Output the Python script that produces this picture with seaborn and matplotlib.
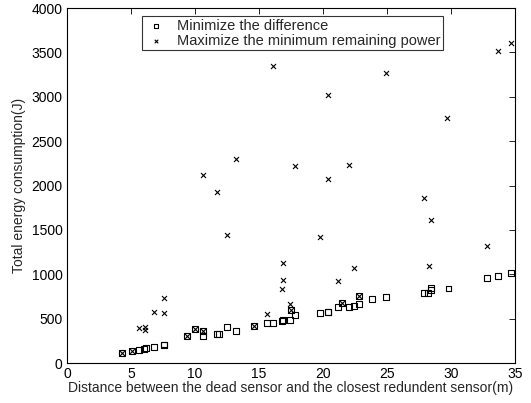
import matplotlib
matplotlib.use('Agg')
import matplotlib.pyplot as plt
import seaborn as sns
import pandas as pd

# Datos
dist_min_diff = [4.3, 5.1, 5.6, 6.0, 6.2, 6.8, 7.6, 7.6, 9.4, 10.0, 10.6, 10.6, 11.7, 11.9,
                 12.5, 13.2, 14.6, 15.6, 16.1, 16.8, 16.9, 17.4, 17.5, 17.8, 19.8, 20.4,
                 20.4, 21.2, 21.5, 22.0, 22.4, 22.8, 22.8, 23.8, 24.9, 27.9, 28.2, 28.4,
                 28.4, 29.8, 32.8, 33.7, 34.7]
energy_min_diff = [116, 135, 146, 161, 169, 184, 200, 210, 304, 387, 361, 304, 323, 330,
                   409, 364, 413, 447, 454, 473, 484, 488, 597, 537, 560, 571,
                   580, 634, 680, 634, 646, 668, 758, 721, 744, 792, 792, 820,
                   848, 841, 954, 980, 1017]

dist_max_min = [4.3, 5.1, 5.6, 6.1, 6.1, 6.8, 7.6, 7.6, 9.4, 10.0, 10.6, 10.6, 11.7, 12.5,
                13.2, 14.6, 15.6, 16.1, 16.8, 16.9, 16.9, 17.4, 17.5, 17.8, 19.8, 20.4,
                20.4, 21.2, 21.5, 22.0, 22.4, 22.8, 24.9, 27.9, 28.3, 28.4, 29.7, 32.8,
                33.7, 34.7]
energy_max_min = [116, 135, 391, 409, 372, 571, 567, 729, 304, 387, 361, 2115, 1923, 1446,
                  2295, 413, 549, 3350, 834, 935, 1130, 661, 597, 2216, 1423, 2077,
                  3023, 920, 680, 2227, 1067, 758, 3268, 1863, 1089, 1608, 2757, 1315,
                  3519, 3602]

etiquetas = ['Minimize the difference', 'Maximize the minimum remaining power']

sns.set_style('white')
plt.rcParams['font.family'] = ['Liberation Sans', 'DejaVu Sans']

df1 = pd.DataFrame({'d': dist_min_diff, 'e': energy_min_diff})
df2 = pd.DataFrame({'d': dist_max_min, 'e': energy_max_min})

fig = plt.figure(figsize=(5.31, 4.03), dpi=100)
ax = fig.add_axes([0.126, 0.099, 0.844, 0.881])

sns.scatterplot(data=df1, x='d', y='e', marker='s', s=18, facecolors='none',
                edgecolor='black', linewidth=0.8, label=etiquetas[0], ax=ax)
sns.scatterplot(data=df2, x='d', y='e', marker='x', s=13, color='black',
                linewidth=0.8, label=etiquetas[1], ax=ax)

ax.set_xlim(0, 35)
ax.set_ylim(0, 4000)
ax.set_xticks(range(0, 36, 5))
ax.set_yticks(range(0, 4001, 500))
ax.tick_params(direction='in', top=True, right=True, length=4, width=0.6,
               labelsize=10, colors='black', pad=3)
for sp in ax.spines.values():
    sp.set_color('black')
    sp.set_linewidth(0.8)

ax.set_xlabel('Distance between the dead sensor and the closest redundent sensor(m)',
              fontsize=10, labelpad=0)
ax.set_ylabel('Total energy consumption(J)', fontsize=10, labelpad=4)

leg = ax.legend(loc='upper left', bbox_to_anchor=(0.167, 0.978), fontsize=10.5,
                frameon=True, fancybox=False, borderpad=0.2, handletextpad=0.6,
                labelspacing=0.05, borderaxespad=0, handlelength=1.6, markerscale=0.7)
leg.get_frame().set_edgecolor('black')
leg.get_frame().set_linewidth(0.8)

fig.savefig('out.png', dpi=100)
